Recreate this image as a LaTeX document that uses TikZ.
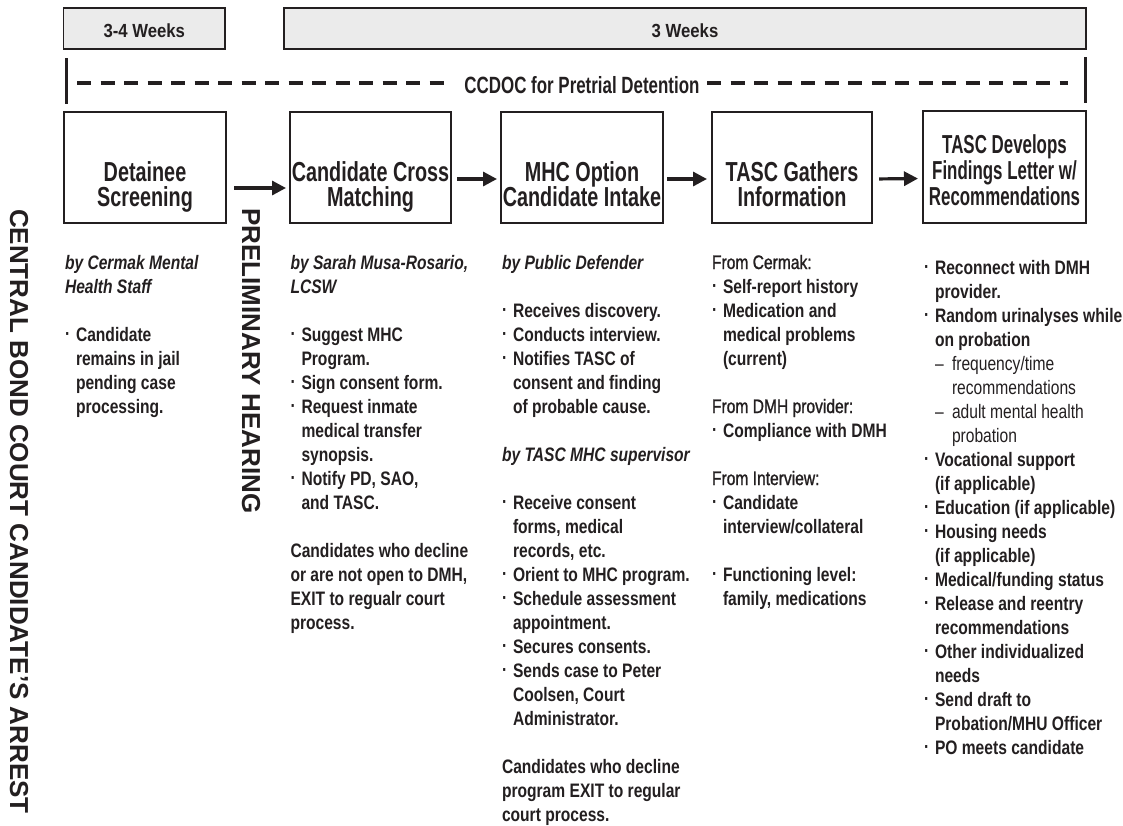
\documentclass[tikz,border=0pt]{standalone}
\usepackage{fontspec}
\setmainfont{Liberation Sans}[FakeStretch=0.8]
\newfontfamily\titlefont{Liberation Sans}[FakeStretch=0.72]
\newfontfamily\titlefontb{Liberation Sans}[FakeStretch=0.65]
\newfontfamily\hdrfont{Liberation Sans}[FakeStretch=0.88]
\newfontfamily\medfont{Liberation Sans}[FakeStretch=0.8,FakeBold=1.2]
\newfontfamily\widefont{Liberation Sans}
\usetikzlibrary{arrows.meta}
\definecolor{ink}{HTML}{231F20}
\definecolor{hdrfill}{HTML}{EBEBEB}
\newcommand\colblock[1]{\vtop{\hsize=320pt\raggedright\parindent=0pt\lineskiplimit=-100pt\lineskip=0pt #1\par}}
\newcommand\ttlblock[1]{\vtop{\hsize=220pt\centering\parindent=0pt\lineskiplimit=-100pt\lineskip=0pt #1\par}}
\newcommand\bul{\makebox[11pt][l]{\raisebox{1pt}{·}}}
\newcommand\ind{\hspace*{11pt}}
\newcommand\dsub[1]{{\mdseries\ind\makebox[17pt][l]{–}#1}}
\newcommand\dcont[1]{{\mdseries\hspace*{28pt}#1}}
\newcommand\fromline[1]{{\medfont\mdseries #1}}
\begin{document}
\begin{tikzpicture}[x=1pt,y=-1pt,
  every node/.style={inner sep=0pt, outer sep=0pt, text=ink},
  hdr/.style={draw=ink, fill=hdrfill, line width=1.6pt},
  hdrtext/.style={font=\hdrfont\bfseries\fontsize{19}{19}\selectfont, anchor=base},
  box/.style={draw=ink, line width=2.6pt},
  ttl/.style={font=\titlefont\bfseries\fontsize{27.5}{25.5}\selectfont, anchor=base},
  body/.style={font=\bfseries\fontsize{19.5}{24}\selectfont, anchor=base west},
  vert/.style={font=\widefont\bfseries\fontsize{26}{26}\selectfont, rotate=-90, anchor=base west},
  arr/.style={draw=ink, line width=3.2pt, -{Triangle[length=14pt,width=14pt]}},
  bar/.style={draw=ink, line width=3pt},
  dline/.style={draw=ink, line width=3.5pt, dash pattern=on 14pt off 9.5pt}]
\useasboundingbox (0,0) rectangle (1123,825);

% header bars
\node[hdr, minimum width=161.5, minimum height=41] (h1) at (144.3,28.5) {};
\node[hdrtext] (h1t) at (144.3,37) {3-4 Weeks};
\node[hdr, minimum width=802, minimum height=41] (h2) at (685,28.5) {};
\node[hdrtext] (h2t) at (685,37) {3 Weeks};

% CCDOC line
\coordinate (lb1) at (66,58); \coordinate (lb2) at (66,104);
\coordinate (rb1) at (1085,57); \coordinate (rb2) at (1085,103);
\draw[bar] (lb1) -- (lb2);
\draw[bar] (rb1) -- (rb2);
\node[font=\titlefont\bfseries\fontsize{23.5}{23.5}\selectfont, anchor=base] (cc) at (582,93.5) {CCDOC for Pretrial Detention};
\coordinate (dl1) at (77,83); \coordinate (dl2) at (448,83);
\coordinate (dr1) at (707,83); \coordinate (dr2) at (1068,83);
\draw[dline] (dl1) -- (dl2);
\draw[dline] (dr1) -- (dr2);

% boxes
\node[box, minimum width=162, minimum height=111] (b1) at (145,167.5) {};
\node[box, minimum width=161, minimum height=111] (b2) at (370.5,167.5) {};
\node[box, minimum width=162, minimum height=111] (b3) at (582,167.5) {};
\node[box, minimum width=160, minimum height=111] (b4) at (792,167.5) {};
\node[box, minimum width=163, minimum height=112] (b5) at (1004.5,167) {};

\node[ttl] (t1) at (145,181) {\ttlblock{Detainee\\Screening}};
\node[ttl] (t2) at (370.5,181) {\ttlblock{Candidate Cross\\Matching}};
\node[ttl] (t3) at (582,181) {\ttlblock{MHC Option\\Candidate Intake}};
\node[ttl] (t4) at (792,181) {\ttlblock{TASC Gathers\\Information}};
\node[ttl, font=\titlefontb\bfseries\fontsize{26}{26}\selectfont] (t5) at (1004.5,153) {\ttlblock{TASC Develops\\Findings Letter w/\\Recommendations}};

% arrows
\draw[arr, shorten <=8pt, shorten >=4pt] ([yshift=-20.5pt]b1.east) -- ([yshift=-20.5pt]b2.west);
\draw[arr, shorten <=6pt, shorten >=4pt] ([yshift=-11.5pt]b2.east) -- ([yshift=-11.5pt]b3.west);
\draw[arr, shorten <=4pt, shorten >=5pt] ([yshift=-11.5pt]b3.east) -- ([yshift=-11.5pt]b4.west);
\draw[arr, shorten <=7pt, shorten >=5pt] ([yshift=-11.5pt]b4.east) -- ([yshift=-11.5pt]b5.west);

% vertical labels
\node[vert] (vl) at (10,209) {CENTRAL BOND COURT CANDIDATE’S ARREST};
\node[vert] (vp) at (242,208) {PRELIMINARY HEARING};

% columns
\node[body] (c1) at (65,269) {\colblock{%
{\itshape by Cermak Mental}\\
{\itshape Health Staff}\\[24pt]
\bul Candidate\\
\ind remains in jail\\
\ind pending case\\
\ind processing.}};

\node[body] (c2) at (290.5,269) {\colblock{%
{\itshape by Sarah Musa-Rosario,}\\
{\itshape LCSW}\\[24pt]
\bul Suggest MHC\\
\ind Program.\\
\bul Sign consent form.\\
\bul Request inmate\\
\ind medical transfer\\
\ind synopsis.\\
\bul Notify PD, SAO,\\
\ind and TASC.\\[24pt]
Candidates who decline\\
or are not open to DMH,\\
EXIT to regualr court\\
process.}};

\node[body] (c3) at (502,269) {\colblock{%
{\itshape by Public Defender}\\[24pt]
\bul Receives discovery.\\
\bul Conducts interview.\\
\bul Notifies TASC of\\
\ind consent and finding\\
\ind of probable cause.\\[24pt]
{\itshape by TASC MHC supervisor}\\[24pt]
\bul Receive consent\\
\ind forms, medical\\
\ind records, etc.\\
\bul Orient to MHC program.\\
\bul Schedule assessment\\
\ind appointment.\\
\bul Secures consents.\\
\bul Sends case to Peter\\
\ind Coolsen, Court\\
\ind Administrator.\\[24pt]
Candidates who decline\\
program EXIT to regular\\
court process.}};

\node[body] (c4) at (712,269) {\colblock{%
\fromline{From Cermak:}\\
\bul Self-report history\\
\bul Medication and\\
\ind medical problems\\
\ind (current)\\[24pt]
\fromline{From DMH provider:}\\
\bul Compliance with DMH\\[24pt]
\fromline{From Interview:}\\
\bul Candidate\\
\ind interview/collateral\\[24pt]
\bul Functioning level:\\
\ind family, medications}};

\node[body] (c5) at (924,274) {\colblock{%
\bul Reconnect with DMH\\
\ind provider.\\
\bul Random urinalyses while\\
\ind on probation\\
\dsub{frequency/time}\\
\dcont{recommendations}\\
\dsub{adult mental health}\\
\dcont{probation}\\
\bul Vocational support\\
\ind (if applicable)\\
\bul Education (if applicable)\\
\bul Housing needs\\
\ind (if applicable)\\
\bul Medical/funding status\\
\bul Release and reentry\\
\ind recommendations\\
\bul Other individualized\\
\ind needs\\
\bul Send draft to\\
\ind Probation/MHU Officer\\
\bul PO meets candidate}};
\end{tikzpicture}
\end{document}
